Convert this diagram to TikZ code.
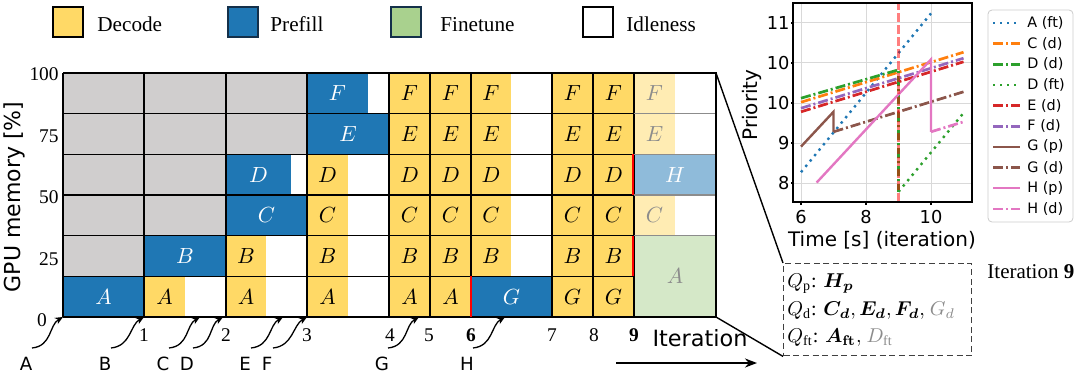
\documentclass[tikz,border=0pt]{standalone}
\usepackage{fontspec}
\usepackage{amsmath}
\usetikzlibrary{arrows.meta}
\setmainfont{Liberation Serif}
\newfontfamily\plotfont{DejaVu Sans}

\definecolor{decodeY}{HTML}{FFD966}
\definecolor{prefillB}{HTML}{1F77B4}
\definecolor{finetuneG}{HTML}{A9D18E}
\definecolor{busyGray}{HTML}{D0CECE}
\definecolor{decodeF}{HTML}{FFECB3}
\definecolor{prefillF}{HTML}{8FBBDA}
\definecolor{finetuneF}{HTML}{D5E8C8}
\definecolor{keyEdge}{HTML}{14304A}
\definecolor{tabblue}{HTML}{1F77B4}
\definecolor{taborange}{HTML}{FF7F0E}
\definecolor{tabgreen}{HTML}{2CA02C}
\definecolor{tabred}{HTML}{D62728}
\definecolor{tabpurple}{HTML}{9467BD}
\definecolor{tabbrown}{HTML}{8C564B}
\definecolor{tabpink}{HTML}{E377C2}

\begin{document}
\begin{tikzpicture}[x=0.5pt, y=-0.5pt,
    ticknum/.style={inner sep=0pt, font=\fontsize{9.7}{11}\selectfont},
    cellfont/.style={inner sep=0pt, font=\fontsize{11}{13}\selectfont},
    gridline/.style={line width=0.8pt, black},
    jobletter/.style={inner sep=0pt, font=\plotfont\fontsize{9.1}{11}\selectfont},
    jobarrow/.style={line width=0.65pt, -{Stealth[length=4pt, width=3.5pt]}},
    ptick/.style={inner sep=0pt, font=\plotfont\fontsize{8.9}{10}\selectfont},
    pgrid/.style={line width=0.5pt, black!15},
    pline/.style={line width=1.2pt},
    pdot/.style={pline, dash pattern=on 1.2pt off 2.3pt},
    pdd/.style={pline, line width=1.35pt, dash pattern=on 5pt off 1.5pt on 1pt off 1.5pt},
    sAft/.style={pdot, tabblue}, sCd/.style={pdd, taborange}, sDd/.style={pdd, tabgreen},
    sDft/.style={pdot, tabgreen}, sEd/.style={pdd, tabred}, sFd/.style={pdd, tabpurple},
    sGp/.style={pline, tabbrown}, sGd/.style={pdd, tabbrown},
    sHp/.style={pline, tabpink}, sHd/.style={pdd, tabpink}]
\useasboundingbox (0,0) rectangle (1079,374);
\fill[white] (0,0) rectangle (1079,374);

% legend
\foreach \f/\e/\kx/\tx/\name in {decodeY/black/53/97/Decode, prefillB/keyEdge/228/270/Prefill,
    finetuneG/keyEdge/391/440/Finetune, white/black/583/626/Idleness} {
  \draw[fill=\f, draw=\e, line width=1pt] (\kx,7) rectangle ++(30,30);
  \node[anchor=base west, inner sep=0pt, font=\fontsize{10.6}{12}\selectfont] (key\name) at (\tx,32) {\name};
}

% memory grid, one unit per row
\begin{scope}[shift={(0,317)}, y=20.333pt]
  \foreach \xa/\xb/\ra in {63/144/1, 144/226/2, 226/307/4}
    \fill[busyGray] (\xa,\ra) rectangle (\xb,6);
  \foreach \xa/\xb/\ra/\rb/\f/\tc/\t in {
      63/144/0/1/prefillB/white/A,
      144/185/0/1/decodeY/black/A, 144/226/1/2/prefillB/white/B,
      226/266/0/1/decodeY/black/A, 226/266/1/2/decodeY/black/B,
      226/307/2/3/prefillB/white/C, 226/291/3/4/prefillB/white/D,
      307/348/0/1/decodeY/black/A, 307/348/1/2/decodeY/black/B,
      307/348/2/3/decodeY/black/C, 307/348/3/4/decodeY/black/D,
      307/389/4/5/prefillB/white/E, 307/368/5/6/prefillB/white/F,
      471/552/0/1/prefillB/white/G,
      471/511/1/2/decodeY/black/B, 471/511/2/3/decodeY/black/C, 471/511/3/4/decodeY/black/D,
      471/511/4/5/decodeY/black/E, 471/511/5/6/decodeY/black/F,
      634/716/0/2/finetuneF/black!45/A, 634/675/2/3/decodeF/black!45/C,
      634/716/3/4/prefillF/white/H, 634/675/4/5/decodeF/black!45/E,
      634/675/5/6/decodeF/black!45/F} {
    \fill[\f] (\xa,\ra) rectangle (\xb,\rb);
    \node[cellfont, text=\tc] (c\xa-\ra) at ({(\xa+\xb)/2},{(\ra+\rb)/2}) {$\t$};
  }
  \foreach \xa/\xb/\jobs in {389/430/{A,B,C,D,E,F}, 430/471/{A,B,C,D,E,F},
      552/593/{G,B,C,D,E,F}, 593/634/{G,B,C,D,E,F}}
    \foreach \t [count=\r from 0] in \jobs {
      \fill[decodeY] (\xa,\r) rectangle (\xb,\r+1);
      \node[cellfont] (c\xa-\r) at ({(\xa+\xb)/2},\r+0.5) {$\t$};
    }
  \foreach \x in {63,144,226,307,389,430,471,552,593,634}
    \draw[gridline] (\x,0) -- (\x,6);
  \foreach \r in {0,...,6}
    \draw[gridline] (63,\r) -- (634,\r);
  \foreach \r in {2,...,5}
    \draw[line width=0.8pt, black!45] (634,\r) -- (716,\r);
  \draw[gridline] (634,6) -- (716,6) -- (716,0) -- (634,0);
  \draw[red, line width=1.1pt] (471,0) -- (471,1) (633,1) -- (633,2) (633,3) -- (633,4);
  \coordinate (gridTR) at (716,6);
  \coordinate (gridBR) at (716,0);
\end{scope}

% axes of the grid
\foreach \v/\y in {100/74, 75/136, 50/197, 25/259}
  \node[ticknum, anchor=east] (m\v) at (59,\y) {\v};
\node[ticknum] (m0) at (42,320) {0};
\foreach \x/\n in {144/1, 226/2, 307/3, 390/4, 429/5, 471/{\bfseries 6}, 552/7, 594/8, 634/{\bfseries 9}}
  \node[ticknum] (it\x) at (\x,335) {\n};
\node[rotate=90, font=\plotfont\fontsize{11}{13}\selectfont] (memlabel) at (14,197) {GPU memory [\%]};
\node[font=\plotfont\fontsize{11.2}{13}\selectfont] (iterlabel) at (700,338) {Iteration};
\coordinate (iterA) at (616,363);
\coordinate (iterB) at (757,363);
\draw[line width=1pt, -{Stealth[length=6pt, width=4.5pt]}] (iterA) -- (iterB);

% arrivals
\foreach \j/\lx/\ex in {A/26/63, B/105/144, C/163/200, D/187/223, E/245/283, F/267/307, G/382/419, H/467/505} {
  \node[jobletter] (arr\j) at (\lx,364) {\j};
  \coordinate (t\j) at (\ex,317);
  \draw[jobarrow] ([shift={(6,-16)}]arr\j.center) .. controls +(20,-2) and +(-14,8) .. (t\j);
}

% priority plot
\begin{scope}[shift={(606,183)}, x=16.25pt, y=20pt]
  \foreach \x in {6,8,10}
    \draw[pgrid] (\x,-0.475) -- (\x,4.5);
  \foreach \v in {0,...,4}
    \draw[pgrid] (5.754,\v) -- (11.262,\v);
  \draw[sAft] (6,0.27) -- (10,4.24);
  \draw[sCd] (6,2.02) -- (11,3.27);
  \draw[sDd] (6,2.12) -- (9,2.83) -- (9,-0.22);
  \draw[sDft] (9,-0.22) -- (11,1.75);
  \draw[sEd] (6,1.78) -- (11,3.03);
  \draw[sFd] (6,1.87) -- (11,3.12);
  \draw[sGp] (6,0.91) -- (7,1.78) -- (7,1.28);
  \draw[sGd] (7,1.28) -- (11,2.28);
  \draw[sHp] (6.48,0.01) -- (10,3.09) -- (10,1.28);
  \draw[sHd] (10,1.28) -- (11,1.53);
  \draw[red, opacity=0.5, line width=1.1pt, dash pattern=on 4.5pt off 1.5pt] (9,-0.475) -- (9,4.5);
  \draw[line width=0.6pt] (5.754,-0.475) rectangle (11.262,4.5);
  \foreach \v/\l in {0/8, 1/9, 2/10, 3/10, 4/11} {
    \draw[line width=0.6pt] (5.754,\v) -- (5.68,\v);
    \node[ptick, anchor=east] (yt\v) at (5.66,\v) {\l};
  }
  \foreach \x in {6,8,10} {
    \draw[line width=0.6pt] (\x,-0.475) -- (\x,-0.55);
    \node[ptick] (xt\x) at (\x,-0.85) {\x};
  }
\end{scope}
\node[font=\plotfont\fontsize{10}{12}\selectfont] (timelabel) at (882,240) {Time [s] (iteration)};
\node[rotate=90, font=\plotfont\fontsize{10}{12}\selectfont] (prilabel) at (752,105) {Priority};

\draw[black!20, fill=white, rounded corners=2pt] (988,10) rectangle (1073,222);
\foreach \s/\l [count=\i from 0] in {sAft/A (ft), sCd/C (d), sDd/D (d), sDft/D (ft), sEd/E (d),
    sFd/F (d), sGp/G (p), sGd/G (d), sHp/H (p), sHd/H (d)} {
  \draw[\s] (993,23+20.65*\i) -- (1020,23+20.65*\i);
  \node[anchor=west, inner sep=0pt, font=\plotfont\fontsize{7.2}{9}\selectfont] (lg\i) at (1027,23+20.65*\i) {\l};
}

% queues at iteration 9
\node[draw=black!75, line width=0.7pt, dash pattern=on 3pt off 1.8pt, anchor=north west,
    inner sep=0pt, minimum width=94pt, minimum height=46pt] (qbox) at (783,263) {};
\draw[line width=0.7pt] (gridTR) -- (qbox.north west);
\draw[line width=0.7pt] (gridBR) -- (qbox.south west);
\node[anchor=base west, inner sep=0pt, font=\fontsize{10}{12}\selectfont] (qp) at (787,287)
  {$Q_{\mathrm{p}}$: $\boldsymbol{H_p}$};
\node[anchor=base west, inner sep=0pt, font=\fontsize{10}{12}\selectfont] (qd) at (787,315)
  {$Q_{\mathrm{d}}$: $\boldsymbol{C_d}, \boldsymbol{E_d}, \boldsymbol{F_d},$ \textcolor{black!45}{$G_d$}};
\node[anchor=base west, inner sep=0pt, font=\fontsize{10}{12}\selectfont] (qft) at (787,342)
  {$Q_{\mathrm{ft}}$: $\boldsymbol{A_{\mathbf{ft}}},$ \textcolor{black!45}{$D_{\mathrm{ft}}$}};
\node[anchor=base west, inner sep=0pt, font=\fontsize{10.5}{12}\selectfont] (iternine) at (987,278)
  {Iteration \textbf{9}};
\end{tikzpicture}
\end{document}
